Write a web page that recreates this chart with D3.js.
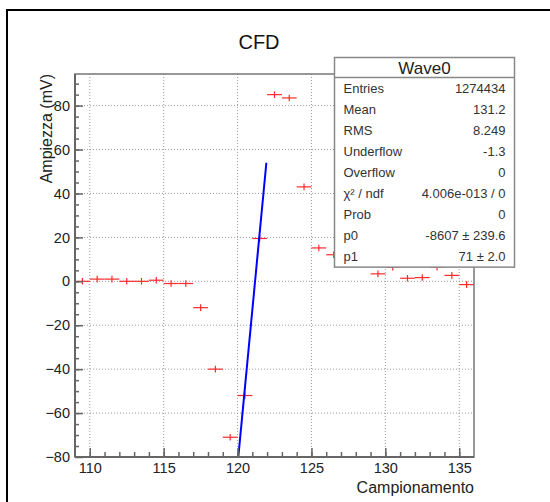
<!DOCTYPE html>
<html>
<head>
<meta charset="utf-8">
<script src="https://cdn.jsdelivr.net/npm/d3@7"></script>
<style>
  body { margin: 0; background: #fff; }
  svg text { font-family: "Liberation Sans", Arial, sans-serif; }
</style>
</head>
<body>
<div class="vis"></div>
<script>
// bin centres (Campionamento) and content (Ampiezza, mV)
const binCenters = [109.5, 110.5, 111.5, 112.5, 113.5, 114.5, 115.5, 116.5, 117.5, 118.5,
  119.5, 120.5, 121.5, 122.5, 123.5, 124.5, 125.5, 126.5, 127.5, 128.5,
  129.5, 130.5, 131.5, 132.5, 133.5, 134.5, 135.5];
const amplitudes = [0, 1, 1, 0, 0, 0.5, -1, -1, -12, -40,
  -71, -52, 19.5, 85, 83.5, 43, 15.2, 12.1, 10, 9,
  3.4, 6.4, 1.4, 1.7, 6.4, 2.7, -1.5];
const yErrors = [1.5, 1.5, 1.5, 1.5, 1.5, 1.5, 1.5, 1.5, 1.5, 1.5,
  1.5, 1.5, 1.5, 1.5, 1.5, 1.5, 1.5, 1.5, 1.5, 1.5,
  1.5, 1.5, 1.5, 1.5, 1.5, 1.5, 1.5];
const binHalfWidth = 0.5;

// linear fit drawn over the rising edge
const fitPoints = [[120.05, -80], [121.95, 54]];

const xMajor = [110, 115, 120, 125, 130, 135];
const yMajor = [-80, -60, -40, -20, 0, 20, 40, 60, 80];

const statLabels = ["Entries", "Mean", "RMS", "Underflow", "Overflow", "\u03c7\u00b2 / ndf", "Prob", "p0", "p1"];
const statValues = ["1274434", "131.2", "8.249", "-1.3", "0", "4.006e-013 / 0", "0", "-8607 \u00b1 239.6", "71 \u00b1 2.0"];

const W = 550, H = 502;
const margin = { top: 74, right: 76, bottom: 45, left: 75 };
const width = W - margin.left - margin.right;
const height = H - margin.top - margin.bottom;

const root = d3.select(".vis").append("svg")
  .attr("width", W).attr("height", H);

root.append("rect").attr("width", W).attr("height", H).attr("fill", "#fff");
// outer canvas frame
root.append("rect")
  .attr("x", 7).attr("y", 10).attr("width", 600).attr("height", 600)
  .attr("fill", "none").attr("stroke", "#000").attr("stroke-width", 2);

root.append("text")
  .attr("x", 259).attr("y", 49)
  .attr("text-anchor", "middle")
  .attr("font-size", 20)
  .attr("fill", "#111")
  .text("CFD");

const svg = root.append("g")
  .attr("transform", "translate(" + margin.left + "," + margin.top + ")");

const x = d3.scaleLinear().domain([109, 136]).range([0, width]);
const y = d3.scaleLinear().domain([-80, 94.4]).range([height, 0]);

svg.append("clipPath").attr("id", "clip")
  .append("rect").attr("width", width).attr("height", height);

// grid
svg.append("g")
  .selectAll("line.gx")
  .data(xMajor)
  .enter()
  .append("line")
  .attr("x1", (d) => x(d)).attr("x2", (d) => x(d))
  .attr("y1", 0).attr("y2", height)
  .attr("stroke", "#9a9a9a").attr("stroke-dasharray", "1,2");
svg.append("g")
  .selectAll("line.gy")
  .data(yMajor.filter((d) => d > -80))
  .enter()
  .append("line")
  .attr("y1", (d) => y(d)).attr("y2", (d) => y(d))
  .attr("x1", 0).attr("x2", width)
  .attr("stroke", "#9a9a9a").attr("stroke-dasharray", "1,2");

// data points with error bars
const pts = svg.append("g").attr("clip-path", "url(#clip)")
  .attr("stroke", "#ff2a2a").attr("stroke-width", 1.2);
binCenters.forEach(function (c, i) {
  const v = amplitudes[i];
  pts.append("line")
    .attr("x1", x(c - binHalfWidth)).attr("x2", x(c + binHalfWidth))
    .attr("y1", y(v)).attr("y2", y(v));
  pts.append("line")
    .attr("x1", x(c)).attr("x2", x(c))
    .attr("y1", y(v - yErrors[i])).attr("y2", y(v + yErrors[i]));
});

// fit line
svg.append("path")
  .datum(fitPoints)
  .attr("clip-path", "url(#clip)")
  .attr("fill", "none")
  .attr("stroke", "#0000ff")
  .attr("stroke-width", 2)
  .attr("d", d3.line().x((d) => x(d[0])).y((d) => y(d[1])));

// frame
svg.append("rect")
  .attr("width", width).attr("height", height)
  .attr("fill", "none").attr("stroke", "#777").attr("stroke-width", 1.5);

// axes
const axisStyle = function (g) {
  g.select(".domain").remove();
  g.selectAll(".tick line").attr("stroke", "#666").attr("stroke-width", 1.5);
  g.selectAll(".tick text").attr("font-size", 14.5).attr("fill", "#222")
    .attr("font-family", "Liberation Sans, Arial, sans-serif");
};

svg.append("g")
  .attr("transform", "translate(0," + height + ")")
  .call(d3.axisBottom(x).tickValues(d3.range(110, 136, 1)).tickSize(-5).tickFormat(""))
  .call(axisStyle);
svg.append("g")
  .attr("transform", "translate(0," + height + ")")
  .call(d3.axisBottom(x).tickValues(xMajor).tickSize(-9).tickPadding(-9 + 17).tickFormat(d3.format("d")))
  .call(axisStyle)
  .call((g) => g.selectAll(".tick text").attr("dy", "0.71em").attr("y", 6));

svg.append("g")
  .call(d3.axisLeft(y).tickValues(d3.range(-75, 95, 5)).tickSize(-4).tickFormat(""))
  .call(axisStyle);
svg.append("g")
  .call(d3.axisLeft(y).tickValues(yMajor).tickSize(-8).tickFormat(d3.format("d")))
  .call(axisStyle)
  .call((g) => g.selectAll(".tick text").attr("x", -5));

// axis lines
svg.append("line").attr("x1", 0).attr("x2", 0).attr("y1", 0).attr("y2", height)
  .attr("stroke", "#666").attr("stroke-width", 2);
svg.append("line").attr("x1", 0).attr("x2", width).attr("y1", height).attr("y2", height)
  .attr("stroke", "#666").attr("stroke-width", 2);

// axis titles
svg.append("text")
  .attr("x", width).attr("y", height + 36)
  .attr("text-anchor", "end")
  .attr("font-size", 16).attr("fill", "#222")
  .text("Campionamento");
svg.append("text")
  .attr("transform", "translate(-23,0) rotate(-90)")
  .attr("text-anchor", "end")
  .attr("font-size", 16).attr("fill", "#222")
  .text("Ampiezza (mV)");

// stats box
const box = { x: 334.5, y: 57.5, w: 180, titleH: 20, rowH: 21.07 };
const stats = root.append("g");
stats.append("rect")
  .attr("x", box.x).attr("y", box.y)
  .attr("width", box.w).attr("height", box.titleH + box.rowH * statLabels.length)
  .attr("fill", "#fff").attr("stroke", "#888").attr("stroke-width", 1.5);
stats.append("line")
  .attr("x1", box.x).attr("x2", box.x + box.w)
  .attr("y1", box.y + box.titleH).attr("y2", box.y + box.titleH)
  .attr("stroke", "#888").attr("stroke-width", 1.5);
stats.append("text")
  .attr("x", box.x + box.w / 2).attr("y", box.y + 16)
  .attr("text-anchor", "middle").attr("font-size", 17).attr("fill", "#222")
  .text("Wave0");
statLabels.forEach(function (lab, i) {
  const cy = box.y + box.titleH + box.rowH * (i + 0.5);
  stats.append("text")
    .attr("x", box.x + 9).attr("y", cy).attr("dy", "0.35em")
    .attr("font-size", 13).attr("fill", "#333")
    .text(lab);
  stats.append("text")
    .attr("x", box.x + box.w - 9).attr("y", cy).attr("dy", "0.35em")
    .attr("text-anchor", "end")
    .attr("font-size", 13).attr("fill", "#333")
    .text(statValues[i]);
});
</script>
</body>
</html>
